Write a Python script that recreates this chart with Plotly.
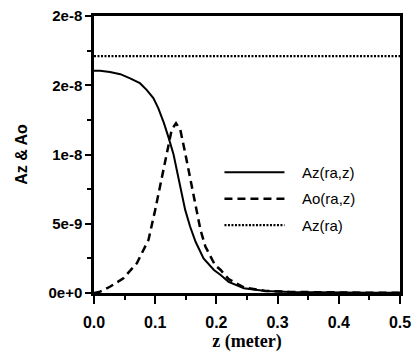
import plotly.graph_objects as go

# z positions (meter) and values
z_az = [0.0, 0.01, 0.026, 0.043, 0.059, 0.075, 0.086, 0.097, 0.105, 0.114, 0.122, 0.130,
        0.138, 0.149, 0.157, 0.166, 0.179, 0.196, 0.207, 0.22, 0.245, 0.28, 0.32, 0.36,
        0.40, 0.45, 0.5]
az_raz = [16.05e-9, 16.05e-9, 15.95e-9, 15.8e-9, 15.5e-9, 15.15e-9, 14.67e-9, 14.07e-9,
          13.35e-9, 12.3e-9, 11.2e-9, 10.0e-9, 8.3e-9, 6.0e-9, 4.8e-9, 3.7e-9, 2.5e-9,
          1.66e-9, 1.3e-9, 0.8e-9, 0.35e-9, 0.15e-9, 0.08e-9, 0.05e-9, 0.03e-9, 0.02e-9,
          0.01e-9]

z_ao = [0.0, 0.01, 0.026, 0.048, 0.07, 0.089, 0.1, 0.111, 0.12, 0.127, 0.134, 0.141,
        0.149, 0.157, 0.166, 0.174, 0.182, 0.198, 0.207, 0.22, 0.245, 0.28, 0.32, 0.36,
        0.4, 0.45, 0.5]
ao_raz = [0.0, 0.1e-9, 0.45e-9, 1.06e-9, 2.15e-9, 3.83e-9, 6.0e-9, 8.4e-9, 10.3e-9,
          11.8e-9, 12.26e-9, 11.8e-9, 10.1e-9, 8.4e-9, 6.5e-9, 4.55e-9, 3.35e-9, 2.0e-9,
          1.66e-9, 1.0e-9, 0.4e-9, 0.15e-9, 0.08e-9, 0.05e-9, 0.03e-9, 0.02e-9, 0.01e-9]

z_ra = [0.0, 0.5]
az_ra = [1.71e-8, 1.71e-8]

series_names = ["Az(ra,z)", "Ao(ra,z)", "Az(ra)"]
y_tickvals = [0, 5e-9, 1e-8, 1.5e-8, 2e-8]
y_ticktext = ["0e+0", "5e-9", "1e-8", "2e-8", "2e-8"]
x_tickvals = [0.0, 0.1, 0.2, 0.3, 0.4, 0.5]
x_ticktext = ["0.0", "0.1", "0.2", "0.3", "0.4", "0.5"]

pad = "\u00a0\u00a0\u00a0"

fig = go.Figure()
fig.add_trace(go.Scatter(x=z_az, y=az_raz, mode="lines", name=pad + series_names[0],
                         legendgroup="a",
                         line=dict(color="black", width=2, dash="solid")))
fig.add_trace(go.Scatter(x=z_ao, y=ao_raz, mode="lines", name=pad + series_names[1],
                         legendgroup="b",
                         line=dict(color="black", width=2.5, dash="8px,5px")))
fig.add_trace(go.Scatter(x=z_ra, y=az_ra, mode="lines", name=pad + series_names[2],
                         legendgroup="c",
                         line=dict(color="black", width=2.2, dash="2px,1.5px")))

fig.update_layout(
    width=416, height=352,
    margin=dict(l=94, r=16, t=16, b=59, autoexpand=False),
    paper_bgcolor="white", plot_bgcolor="white",
    showlegend=True,
    legend=dict(x=0.41, y=0.495, xanchor="left", yanchor="top",
                bgcolor="rgba(0,0,0,0)", borderwidth=0,
                font=dict(family="Liberation Sans", size=15, color="black"),
                itemwidth=60, tracegroupgap=4),
    xaxis=dict(range=[0, 0.5], tickvals=x_tickvals, ticktext=x_ticktext,
               automargin=False,
               ticks="outside", ticklen=8, tickwidth=2, tickcolor="black",
               ticklabelstandoff=5,
               minor=dict(dtick=0.05, ticks="outside", ticklen=4, tickwidth=2, tickcolor="black"),
               showline=True, linewidth=2.5, linecolor="black", mirror=True,
               showgrid=False, zeroline=False,
               tickfont=dict(family="Liberation Sans", size=16, weight="bold", color="black"),
               title=dict(text="z (meter)", standoff=9,
                          font=dict(family="Liberation Serif", size=18, weight="bold", color="black"))),
    yaxis=dict(range=[0, 2e-8], tickvals=y_tickvals, ticktext=y_ticktext,
               automargin=False,
               ticks="outside", ticklen=6, tickwidth=2, tickcolor="black",
               minor=dict(dtick=2.5e-9, ticks="outside", ticklen=4, tickwidth=2, tickcolor="black"),
               showline=True, linewidth=2.5, linecolor="black", mirror=True,
               showgrid=False, zeroline=False,
               tickfont=dict(family="Liberation Sans", size=15, weight="bold", color="black"),
               title=dict(text="Az & Ao", standoff=17,
                          font=dict(family="Liberation Sans", size=16, weight="bold", color="black"))),
)

fig.write_html("out.html")
